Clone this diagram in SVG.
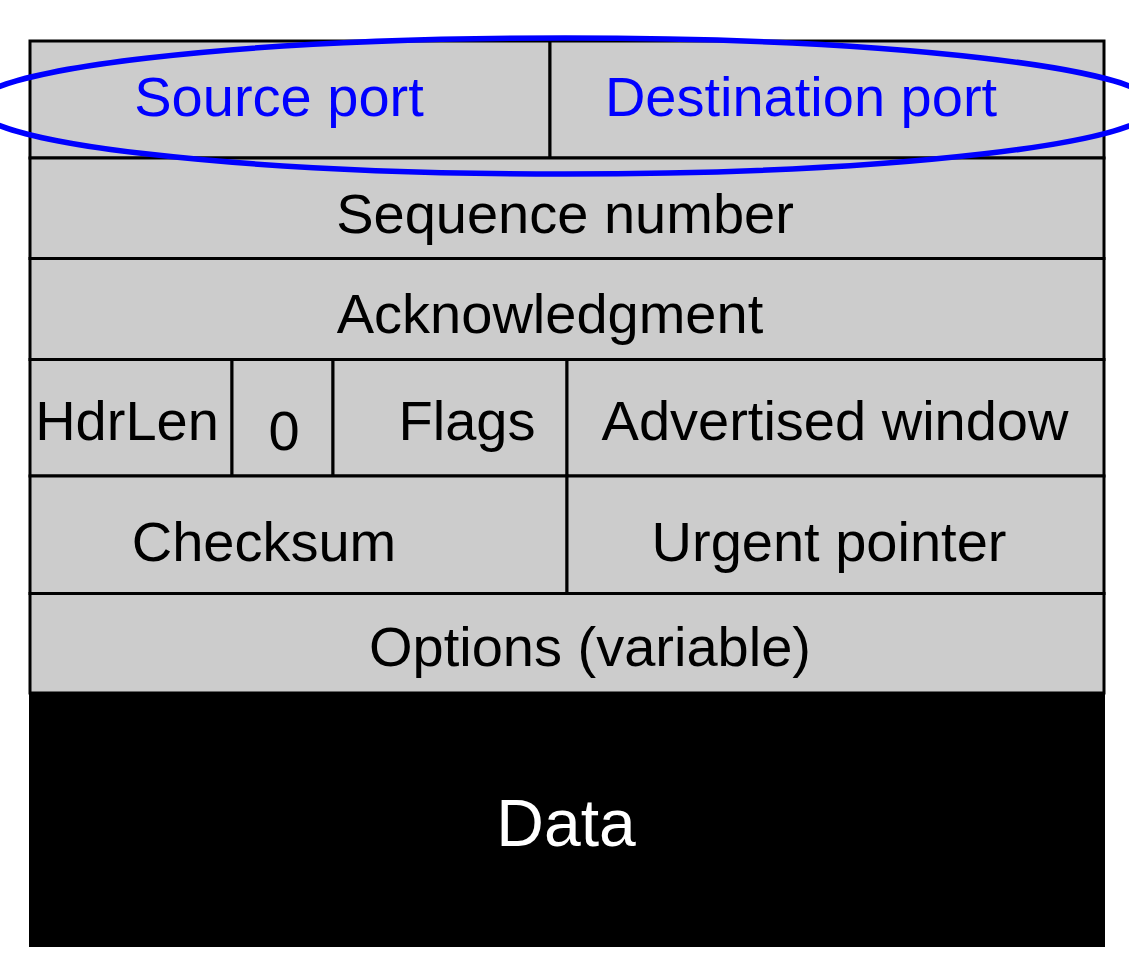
<svg xmlns="http://www.w3.org/2000/svg" width="1129" height="974" viewBox="0 0 1129 974">
<style>
.cell{fill:#cccccc;stroke:#000000;stroke-width:3}
.t{font-family:"Liberation Sans",Arial,sans-serif;font-size:56px;fill:#000000;text-anchor:middle}
.b{fill:#0000ff}
</style>
<rect x="0" y="0" width="1129" height="974" fill="#ffffff"/>
<g id="source-port"><rect class="cell" x="30" y="41" width="520" height="117"/><text class="t b" x="279" y="116">Source port</text></g>
<g id="destination-port"><rect class="cell" x="550" y="41" width="554" height="117"/><text class="t b" x="801" y="116">Destination port</text></g>
<g id="sequence-number"><rect class="cell" x="30" y="158" width="1074" height="100.5"/><text class="t" x="565" y="233">Sequence number</text></g>
<g id="acknowledgment"><rect class="cell" x="30" y="258.5" width="1074" height="101"/><text class="t" x="550" y="333">Acknowledgment</text></g>
<g id="hdrlen"><rect class="cell" x="30" y="359.5" width="202" height="116.5"/><text class="t" x="127" y="440">HdrLen</text></g>
<g id="zero"><rect class="cell" x="232" y="359.5" width="101" height="116.5"/><text class="t" x="284" y="450">0</text></g>
<g id="flags"><rect class="cell" x="333" y="359.5" width="234" height="116.5"/><text class="t" x="467" y="440">Flags</text></g>
<g id="advertised-window"><rect class="cell" x="567" y="359.5" width="537" height="116.5"/><text class="t" x="835" y="440">Advertised window</text></g>
<g id="checksum"><rect class="cell" x="30" y="476" width="537" height="117.5"/><text class="t" x="264" y="561">Checksum</text></g>
<g id="urgent-pointer"><rect class="cell" x="567" y="476" width="537" height="117.5"/><text class="t" x="829" y="561">Urgent pointer</text></g>
<g id="options"><rect class="cell" x="30" y="593.5" width="1074" height="99.5"/><text class="t" x="590" y="666">Options (variable)</text></g>
<g id="data"><rect x="29" y="693" width="1076" height="254" fill="#000000"/><text class="t" x="566" y="846" style="font-size:66px;fill:#ffffff">Data</text></g>
<g id="highlight"><ellipse cx="565" cy="106" rx="590" ry="68" fill="none" stroke="#0000ff" stroke-width="5.5"/></g>
</svg>
